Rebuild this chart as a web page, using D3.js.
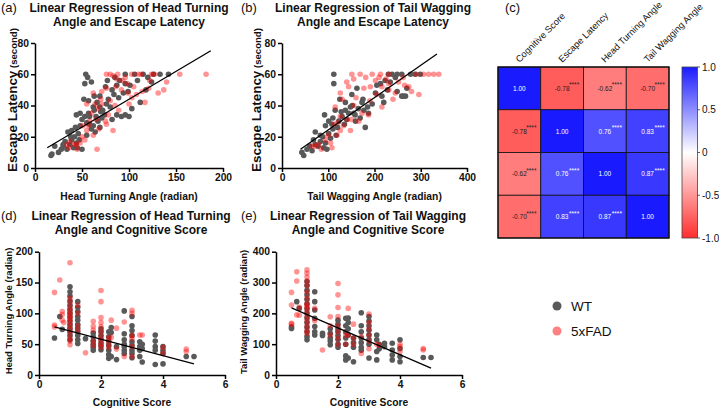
<!DOCTYPE html>
<html><head><meta charset="utf-8">
<script src="https://cdn.jsdelivr.net/npm/d3@7"></script>
<style>
html,body{margin:0;padding:0;background:#fff;}
svg{display:block;font-family:"Liberation Sans",Arial,sans-serif;}
</style></head>
<body>
<svg id="c" width="719" height="411"></svg>
<script>
// ---------- DATA ----------
// Panel (a): head turning angle vs escape latency
const aWT = [[17,8],[18,9],[25,10],[21,14],[28,12],[30,14],[34,12],[37,15],[39,18],[41,13],[42,20],[45,13],[46,22],[35,23],[44,16],[48,27],[50,31],[48,35],[53,33],[57,35],[58,28],[62,27],[64,23],[69,26],[67,30],[71,32],[74,34],[72,37],[69,39],[76,41],[80,39],[82,31],[87,34],[92,33],[96,34],[103,38],[89,45],[94,48],[99,49],[96,54],[90,56],[96,60],[106,60],[115,60],[126,60],[133,60],[142,60],[54,60],[56,58],[53,54],[60,55],[63,46],[69,46],[75,52],[82,50],[87,53],[85,58],[44,34],[39,24],[32,17],[30,15],[57,43],[66,42],[62,39],[52,44],[55,29],[60,25],[47,18],[50,12],[55,21],[65,33],[70,36],[78,44],[84,47],[101,53],[120,58],[109,56],[118,50],[124,55],[77,56],[63,37],[38,20],[43,26],[58,33],[112,42],[100,33]];
const aFAD = [[66,12],[83,24],[36,13],[34,15],[53,18],[57,27],[55,41],[64,41],[62,48],[71,49],[76,51],[76,60],[80,60],[83,59],[87,57],[96,58],[103,60],[110,60],[122,56],[124,60],[140,55],[131,48],[137,50],[117,42],[114,49],[105,52],[99,48],[154,60],[182,60],[85,40],[89,37],[76,28],[75,30],[60,35],[67,38],[51,27],[55,24],[50,20],[44,15],[37,17],[71,41],[80,43],[92,50],[103,45],[121,51],[98,54],[45,12],[48,16],[58,30],[65,31],[70,44],[78,34],[86,52],[93,56],[108,47],[113,60],[127,60],[42,15],[62,21],[68,25],[88,60],[100,41]];
const regA = {x:[13,187], y:[13,75]};

// Panel (b): tail wagging angle vs escape latency
const bWT = [[47,8],[43,10],[54,12],[72,15],[90,13],[94,16],[68,18],[83,21],[72,23],[94,27],[101,30],[92,34],[115,37],[137,42],[137,37],[148,39],[155,35],[159,30],[169,32],[180,26],[177,37],[173,42],[187,35],[151,47],[162,51],[112,60],[112,54],[202,48],[216,46],[220,42],[213,54],[223,56],[238,60],[249,60],[259,60],[278,60],[288,60],[299,60],[259,46],[267,46],[270,51],[249,49],[234,55],[101,22],[123,30],[108,28],[130,33],[144,35],[83,17],[105,19],[60,14],[65,11],[78,14],[88,20],[110,25],[120,26],[128,36],[140,31],[152,40],[165,38],[175,44],[195,41],[205,53],[228,50],[245,58],[262,46],[230,60],[97,12],[117,21],[135,28],[158,34],[185,39],[110,32],[125,44]];
const bFAD = [[72,14],[105,16],[108,13],[119,21],[126,24],[133,27],[148,24],[141,31],[115,39],[130,44],[126,48],[144,52],[155,57],[151,60],[169,60],[177,51],[191,52],[195,60],[213,60],[231,60],[202,56],[216,52],[231,50],[245,48],[216,39],[187,34],[317,60],[328,60],[339,60],[306,60],[296,47],[274,52],[252,55],[231,54],[166,30],[173,35],[94,18],[79,15],[65,14],[126,33],[112,28],[140,55],[160,45],[181,58],[205,47],[225,57],[262,58],[280,49],[290,60],[240,44],[100,21],[85,12],[120,29],[150,31],[190,43],[210,58],[265,53],[155,40]];
const regB = {x:[40,335], y:[12,73]};

// Panel (d): cognitive score vs head turning angle  [score, [values...]]
const dWT = [[0.5,[60]],[0.67,[95]],[0.75,[74]],[1,[143,135,128,120,113,106,100,94,88,82,76,70,64,57]],[1.25,[119,110,103,95,89,82,76,70,64,57,51]],[1.5,[59]],[1.75,[68,62,55,50,45,40]],[2,[75,70,64,58,52,47,41]],[2.25,[70,62,55,48,40,33,27]],[2.33,[77,69,30]],[2.5,[46,25]],[2.75,[104,67,57,50,46,40,35]],[3,[95,80,72,64,54,48,40,35,28]],[3.25,[54,46,40,30]],[3.33,[50,43,21]],[3.75,[65,55,46,40,17]],[4,[46,40,35,18]],[4.75,[30]],[5,[30]]];
const dFAD = [[0.5,[134,81,78]],[0.67,[154]],[0.75,[103,98,89]],[0.8,[85]],[1,[182,125,118,110,104,99,95,91,86,80,74,68,60,55,49]],[1.25,[113,100,80,72]],[1.5,[36]],[1.75,[87,79,73,55,48]],[2,[137,119,93,85,78,70,62,56,50,45]],[2.25,[60,52,45]],[2.33,[89,61]],[2.5,[76,42]],[2.75,[86,30]],[3,[105,100,64,59,46,30]],[3.25,[65]],[3.33,[65]],[4,[45,35]],[4.75,[42,38]]];
const regD = {x:[0.5,5], y:[78,18]};

// Panel (e): cognitive score vs tail wagging angle
const eWT = [[0.5,[151,156]],[0.67,[238]],[0.75,[216]],[1,[303,290,275,260,245,230,215,200,185,170,155,140,125,114]],[1.25,[270,238,211,184,157,140,130]],[1.5,[135,128]],[1.75,[150,135,120,110,98]],[2,[178,165,150,140,128,115,100,90]],[2.25,[184,160,140,120,100,62,49]],[2.33,[185,170,150,130,55]],[2.5,[120,105,90,43]],[2.75,[202,160,140,120,105,90,80]],[3,[190,175,160,145,130,115,100,55]],[3.25,[130,114,76,49]],[3.33,[100,85]],[3.5,[103,92]],[3.75,[103,81,65,49]],[4,[114,86,60,43]],[4.75,[57]],[5,[57]]];
const eFAD = [[0.5,[268,227,165,168]],[0.67,[335,305,195]],[0.75,[194,220]],[1,[341,330,318,305,290,270,250,232,225,218,205,190,175,160,145,135]],[1.25,[216,176]],[1.5,[81]],[1.75,[189,160,130]],[2,[297,260,219,190,160,140,120,100]],[2.25,[130,100]],[2.33,[216,130]],[2.5,[165,119,100]],[2.75,[70,125]],[3,[198,170,150,130,110,85]],[3.25,[100]],[3.33,[97]],[4,[92,76,100]],[4.75,[81,86]]];
const regE = {x:[0.5,5], y:[218,22]};

// Panel (c): correlation matrix
const corrVars = ["Cognitive Score","Escape Latency","Head Turning Angle","Tail Wagging Angle"];
const corrValues = [[1.00,-0.78,-0.62,-0.70],[-0.78,1.00,0.76,0.83],[-0.62,0.76,1.00,0.87],[-0.70,0.83,0.87,1.00]];
const corrStars = [["","****","****","****"],["****","","****","****"],["****","****","","****"],["****","****","****",""]];
const colorbarTicks = [1.0,0.5,0,-0.5,-1.0];
const colorbarLabels = ["1.0","0.5","0","-0.5","-1.0"];

const groups = ["WT","5xFAD"];

// ---------- DRAW ----------
const svg = d3.select("#c");
const FONT = '"Liberation Sans",Arial,sans-serif';
const GRAY = "#595959", RED = "#ff0000";

function flatCols(cols){ const out=[]; cols.forEach(c=>c[1].forEach(v=>out.push([c[0],v]))); return out; }

function scatter(cfg){
  const x = d3.scaleLinear().domain(cfg.xd).range(cfg.xr);
  const y = d3.scaleLinear().domain(cfg.yd).range(cfg.yr);
  const g = svg.append("g");
  const fmt = d3.format("d");
  // axes
  const ax = g.append("g").attr("transform",`translate(0,${cfg.yr[0]})`)
    .call(d3.axisBottom(x).tickValues(cfg.xt).tickFormat(fmt).tickSize(4).tickPadding(2).tickSizeOuter(0));
  const ay = g.append("g").attr("transform",`translate(${cfg.xr[0]},0)`)
    .call(d3.axisLeft(y).tickValues(cfg.yt).tickFormat(fmt).tickSize(4).tickPadding(2).tickSizeOuter(0));
  [ax,ay].forEach(a=>{
    a.selectAll("path,line").attr("stroke","#000").attr("stroke-width",1.5);
    a.selectAll("text").attr("font-family",FONT).attr("font-weight","bold").attr("font-size",10.3).attr("fill","#111");
  });
  // points
  g.append("g").selectAll("circle").data(cfg.wt).join("circle")
    .attr("cx",d=>x(d[0])).attr("cy",d=>y(d[1])).attr("r",2.8).attr("fill",GRAY);
  g.append("g").selectAll("circle").data(cfg.fad).join("circle")
    .attr("cx",d=>x(d[0])).attr("cy",d=>y(d[1])).attr("r",2.8).attr("fill",RED).attr("fill-opacity",0.42);
  // regression line
  g.append("line").attr("x1",x(cfg.reg.x[0])).attr("y1",y(cfg.reg.y[0]))
    .attr("x2",x(cfg.reg.x[1])).attr("y2",y(cfg.reg.y[1])).attr("stroke","#000").attr("stroke-width",1.3);
  // titles
  const tx = cfg.tx;
  g.append("text").attr("x",tx).attr("y",cfg.ty).attr("text-anchor","middle").attr("font-weight","bold").attr("font-size",12).attr("fill","#111").text(cfg.title[0]);
  g.append("text").attr("x",tx).attr("y",cfg.ty+13.7).attr("text-anchor","middle").attr("font-weight","bold").attr("font-size",12).attr("fill","#111").text(cfg.title[1]);
  g.append("text").attr("x",cfg.lx).attr("y",cfg.ty).attr("font-size",13).attr("fill","#111").text(cfg.letter);
  // x label
  g.append("text").attr("x",(cfg.xr[0]+cfg.xr[1])/2).attr("y",cfg.xly).attr("text-anchor","middle")
    .attr("font-weight","bold").attr("font-size",10.3).attr("fill","#111").text(cfg.xlabel);
  // y label
  const yl = g.append("text").attr("transform",`translate(${cfg.ylx},${cfg.ylc}) rotate(-90)`)
    .attr("text-anchor","middle").attr("font-weight","bold").attr("fill","#111");
  if (cfg.ylabel2){
    yl.append("tspan").attr("font-size",13.4).text(cfg.ylabel);
    yl.append("tspan").attr("font-size",9.6).text(" " + cfg.ylabel2);
  } else {
    yl.attr("font-size",9.5).text(cfg.ylabel);
  }
}

scatter({xd:[0,200],xr:[35,223],yd:[0,80],yr:[168,43],xt:[0,50,100,150,200],yt:[0,20,40,60,80],
  wt:aWT,fad:aFAD,reg:regA,title:["Linear Regression of Head Turning","Angle and Escape Latency"],tx:129,ty:12,lx:1,letter:"(a)",
  xlabel:"Head Turning Angle (radian)",xly:200,ylabel:"Escape Latency",ylabel2:"(second)",ylx:17,ylc:100});
scatter({xd:[0,400],xr:[282,467],yd:[0,80],yr:[168,43],xt:[0,100,200,300,400],yt:[0,20,40,60,80],
  wt:bWT,fad:bFAD,reg:regB,title:["Linear Regression of Tail Wagging","Angle and Escape Latency"],tx:373,ty:12,lx:241,letter:"(b)",
  xlabel:"Tail Wagging Angle (radian)",xly:200,ylabel:"Escape Latency",ylabel2:"(second)",ylx:261,ylc:100});
scatter({xd:[0,6],xr:[39,225],yd:[0,200],yr:[375,251.7],xt:[0,2,4,6],yt:[0,50,100,150,200],
  wt:flatCols(dWT),fad:flatCols(dFAD),reg:regD,title:["Linear Regression of Head Turning","Angle and Cognitive Score"],tx:131,ty:220,lx:1,letter:"(d)",
  xlabel:"Cognitive Score",xly:406,ylabel:"Head Turning Angle (radian)",ylx:12,ylc:311});
scatter({xd:[0,6],xr:[276,462],yd:[0,400],yr:[375,251.7],xt:[0,2,4,6],yt:[0,100,200,300,400],
  wt:flatCols(eWT),fad:flatCols(eFAD),reg:regE,title:["Linear Regression of Tail Wagging","Angle and Cognitive Score"],tx:368,ty:220,lx:241,letter:"(e)",
  xlabel:"Cognitive Score",xly:406,ylabel:"Tail Wagging Angle (radian)",ylx:247,ylc:312});

// ---------- HEATMAP ----------
const hm = svg.append("g");
const hx = d3.scaleBand().domain(d3.range(corrVars.length)).range([498,669]);
const hy = d3.scaleBand().domain(d3.range(corrVars.length)).range([67,238]);
const col = d3.scaleLinear().domain([-1,0,1]).range(["#ff2e2e","#ffffff","#1a1aff"]).interpolate(d3.interpolateRgb);
corrValues.forEach((row,i)=>row.forEach((v,j)=>{
  hm.append("rect").attr("x",hx(j)).attr("y",hy(i)).attr("width",hx.bandwidth()).attr("height",hy.bandwidth())
    .attr("fill",col(v)).attr("stroke","#111").attr("stroke-width",0.8);
  const cx = hx(j)+hx.bandwidth()/2, cy = hy(i)+hy.bandwidth()/2;
  const tc = v>0 ? "#fff" : "#222";
  hm.append("text").attr("x",cx).attr("y",cy+2.5).attr("text-anchor","middle").attr("font-size",6.5).attr("fill",tc).text(v.toFixed(2));
  if (corrStars[i][j]) hm.append("text").attr("x",cx+12).attr("y",cy-1).attr("text-anchor","middle").attr("font-size",6.5).attr("fill",tc).text(corrStars[i][j]);
}));
hm.append("rect").attr("x",498).attr("y",67).attr("width",171).attr("height",171).attr("fill","none").attr("stroke","#111").attr("stroke-width",1.3);
corrVars.forEach((v,j)=>{
  const cx = hx(j)+hx.bandwidth()/2;
  hm.append("text").attr("transform",`translate(${cx},${63}) rotate(-45)`).attr("font-size",9.3).attr("fill","#111").text(v);
});
hm.append("text").attr("x",505).attr("y",12).attr("font-size",13).attr("fill","#111").text("(c)");
// colorbar
const cb = d3.scaleLinear().domain([-1,1]).range([238,67]);
const defs = svg.append("defs");
const lg = defs.append("linearGradient").attr("id","cbg").attr("x1",0).attr("y1",1).attr("x2",0).attr("y2",0);
[-1,-0.5,0,0.5,1].forEach(t=>lg.append("stop").attr("offset",(t+1)/2).attr("stop-color",col(t)));
hm.append("rect").attr("x",682).attr("y",67).attr("width",15.5).attr("height",171).attr("fill","url(#cbg)").attr("stroke","#444").attr("stroke-width",0.8);
colorbarTicks.forEach((t,k)=>{
  hm.append("line").attr("x1",697.5).attr("x2",700).attr("y1",cb(t)).attr("y2",cb(t)).attr("stroke","#333").attr("stroke-width",0.8);
  hm.append("text").attr("x",702).attr("y",cb(t)+3.5).attr("font-size",10).attr("fill","#111").text(colorbarLabels[k]);
});

// ---------- LEGEND ----------
const lgd = svg.append("g");
const legendColors = [GRAY,"#ff8080"];
groups.forEach((gname,k)=>{
  lgd.append("circle").attr("cx",557).attr("cy",306+k*25).attr("r",4.5).attr("fill",legendColors[k]);
  lgd.append("text").attr("x",571).attr("y",311+k*25).attr("font-size",13.5).attr("fill","#111").text(gname);
});
</script>
</body></html>
